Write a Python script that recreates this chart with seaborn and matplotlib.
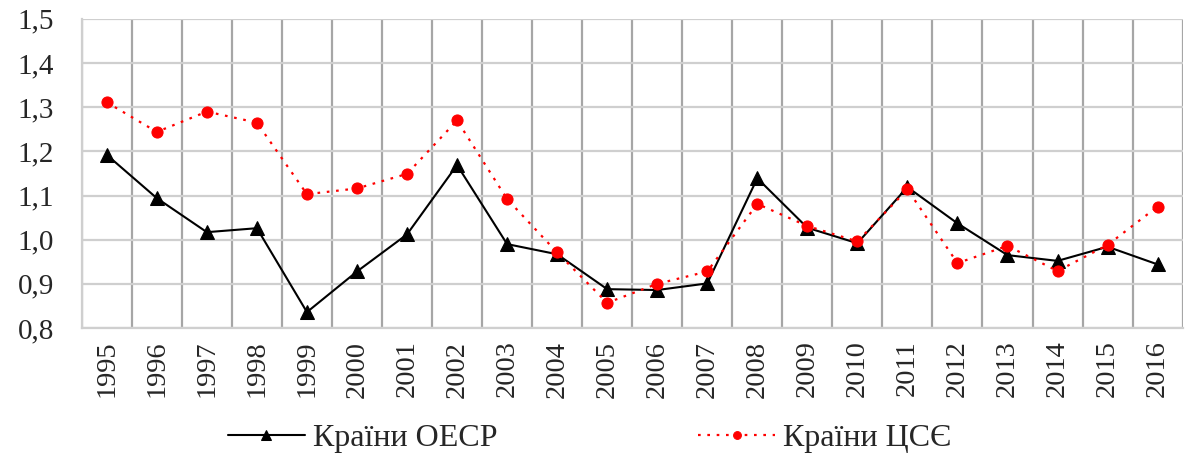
import pandas as pd
import numpy as np
import matplotlib
matplotlib.use("Agg")
import matplotlib.pyplot as plt
import seaborn as sns
from matplotlib.ticker import FuncFormatter, MultipleLocator

# ================================
# Data
# ================================
years = list(range(1995, 2017))

oecd = [1.192, 1.094, 1.017, 1.026, 0.836, 0.928, 1.012, 1.169, 0.990, 0.967,
        0.888, 0.886, 0.901, 1.139, 1.027, 0.992, 1.119, 1.037, 0.965, 0.952,
        0.984, 0.944]

cee = [1.311, 1.244, 1.290, 1.265, 1.103, 1.116, 1.149, 1.270, 1.092, 0.971,
       0.857, 0.900, 0.928, 1.081, 1.031, 0.996, 1.114, 0.947, 0.986, 0.929,
       0.988, 1.075]

label_oecd = "Країни ОЕСР"
label_cee = "Країни ЦСЄ"

df = pd.DataFrame({"year": years, "oecd": oecd, "cee": cee})

# ================================
# Style
# ================================
sns.set_style("white")
plt.rcParams["font.family"] = ["Liberation Serif", "DejaVu Serif"]

fig = plt.figure(figsize=(11.85, 4.54), dpi=100)
ax = fig.add_axes([0.069, 0.2775, 0.929, 0.681])

sns.lineplot(data=df, x="year", y="oecd", ax=ax, color="black", linewidth=1.5,
             marker="^", markersize=10, markeredgecolor="black", label=label_oecd)
sns.lineplot(data=df, x="year", y="cee", ax=ax, color="red", linewidth=1.6,
             linestyle=(0, (1.2, 3)), marker="o", markersize=8,
             markeredgecolor="red", label=label_cee)

# axes limits / ticks
ax.set_xlim(1994.5, 2016.5)
ax.set_ylim(0.8, 1.5)
ax.set_xticks(years)
ax.set_xticklabels([str(y) for y in years], rotation=90)
ax.xaxis.set_minor_locator(MultipleLocator(1, offset=0.5))
ax.yaxis.set_major_locator(MultipleLocator(0.1))
ax.yaxis.set_major_formatter(FuncFormatter(lambda v, p: f"{v:.1f}".replace(".", ",")))

ax.tick_params(axis="y", which="major", length=0, pad=20, labelsize=21)
ax.tick_params(axis="x", which="major", length=0, pad=9, labelsize=20.5)
ax.tick_params(axis="x", which="minor", length=0)

# grid
ax.grid(False)
ax.grid(axis="y", which="major", color="#cfcfcf", linewidth=1.6)
ax.grid(axis="x", which="minor", color="#a6a6a6", linewidth=1.6)
ax.set_axisbelow(True)

for side in ["top", "right"]:
    ax.spines[side].set_visible(False)
for side in ["left", "bottom"]:
    ax.spines[side].set_color("#cfcfcf")
    ax.spines[side].set_linewidth(1.6)

ax.set_xlabel("")
ax.set_ylabel("")

# legend at the bottom
handles, labels = ax.get_legend_handles_labels()
ax.get_legend().remove()
fig.legend(handles, labels, loc="center", bbox_to_anchor=(0.4975, 0.035),
           ncol=2, frameon=False, fontsize=23, handlelength=2.4,
           columnspacing=6.3, handletextpad=0.25, markerscale=0.7)

plt.savefig("out.png", dpi=100)
plt.close()
